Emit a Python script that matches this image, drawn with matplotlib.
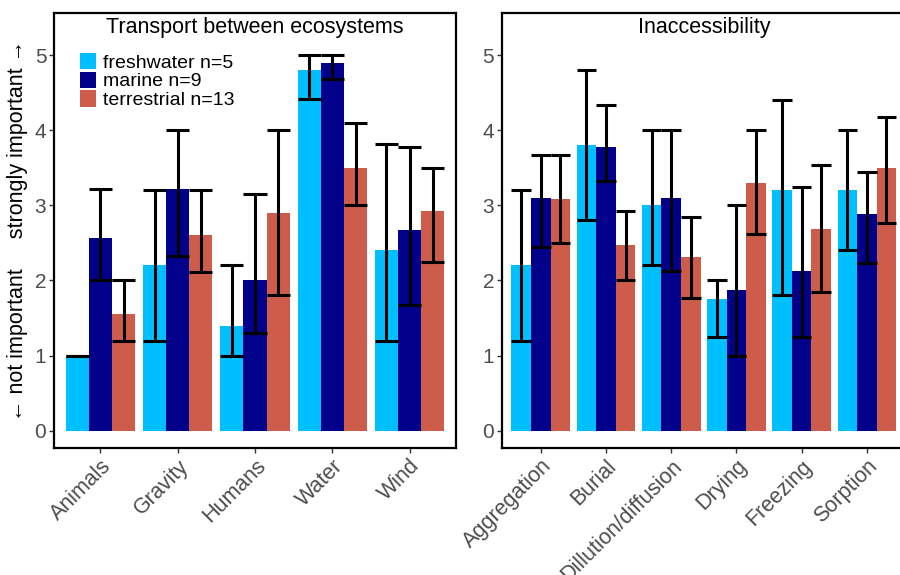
import matplotlib
matplotlib.use("Agg")
import matplotlib.pyplot as plt
from matplotlib.patches import Patch
import numpy as np

plt.rcParams['font.family'] = ['Liberation Sans', 'DejaVu Sans']

groups = ['freshwater n=5', 'marine n=9', 'terrestrial n=13']
colors = ['#00BFFF', '#00008B', '#CD5C4A']

transport_cats = ['Animals', 'Gravity', 'Humans', 'Water', 'Wind']
transport_mean = {
    'freshwater': [1.0, 2.2, 1.4, 4.8, 2.4],
    'marine': [2.56, 3.22, 2.0, 4.89, 2.67],
    'terrestrial': [1.55, 2.6, 2.9, 3.5, 2.92],
}
transport_lo = {
    'freshwater': [1.0, 1.2, 1.0, 4.41, 1.2],
    'marine': [2.0, 2.33, 1.3, 4.68, 1.67],
    'terrestrial': [1.19, 2.11, 1.8, 3.0, 2.25],
}
transport_hi = {
    'freshwater': [1.0, 3.2, 2.2, 5.0, 3.81],
    'marine': [3.22, 4.0, 3.15, 5.0, 3.78],
    'terrestrial': [2.0, 3.2, 4.0, 4.09, 3.5],
}

inacc_cats = ['Aggregation', 'Burial', 'Dillution/diffusion', 'Drying', 'Freezing', 'Sorption']
inacc_mean = {
    'freshwater': [2.2, 3.8, 3.0, 1.75, 3.2, 3.2],
    'marine': [3.1, 3.78, 3.1, 1.87, 2.12, 2.89],
    'terrestrial': [3.08, 2.47, 2.31, 3.3, 2.69, 3.5],
}
inacc_lo = {
    'freshwater': [1.2, 2.8, 2.2, 1.25, 1.8, 2.4],
    'marine': [2.45, 3.33, 2.12, 1.0, 1.25, 2.23],
    'terrestrial': [2.5, 2.0, 1.77, 2.62, 1.85, 2.76],
}
inacc_hi = {
    'freshwater': [3.2, 4.8, 4.0, 2.0, 4.4, 4.0],
    'marine': [3.67, 4.34, 4.0, 3.0, 3.25, 3.44],
    'terrestrial': [3.67, 2.93, 2.85, 4.0, 3.54, 4.17],
}

keys = ['freshwater', 'marine', 'terrestrial']
bw = 0.3


def draw_panel(ax, cats, mean, lo, hi, title):
    x = np.arange(1, len(cats) + 1)
    for i, k in enumerate(keys):
        xs = x + (i - 1) * bw
        ax.bar(xs, mean[k], width=bw, color=colors[i], linewidth=0, zorder=2)
    # error bars with caps as wide as the bars
    for i, k in enumerate(keys):
        xs = x + (i - 1) * bw
        ax.vlines(xs, lo[k], hi[k], color='black', lw=2.2, zorder=3)
        ax.hlines(lo[k], xs - bw / 2, xs + bw / 2, color='black', lw=2.2, zorder=3)
        ax.hlines(hi[k], xs - bw / 2, xs + bw / 2, color='black', lw=2.2, zorder=3)
    ax.set_xlim(0.4, len(cats) + 0.6)
    ax.set_ylim(-0.23, 5.56)
    ax.set_yticks(range(6))
    ax.set_xticks(x)
    ax.set_xticklabels(cats, rotation=45, ha='right', va='top', rotation_mode='anchor')
    ax.tick_params(axis='both', labelcolor='#4D4D4D', color='#333333',
                   length=3.5, width=1, pad=2)
    ax.tick_params(axis='x', labelsize=15.5)
    ax.tick_params(axis='y', labelsize=15)
    for s in ax.spines.values():
        s.set_linewidth(1.6)
        s.set_color('black')
    ax.text(0.5, 0.966, title, transform=ax.transAxes, ha='center', va='center',
            fontsize=15.5, color='black')


fig = plt.figure(figsize=(9, 5.75), dpi=100)
ax1 = fig.add_axes([0.06, 0.2209, 0.4467, 0.7565])
ax2 = fig.add_axes([0.5574, 0.2209, 0.4493, 0.7565])

draw_panel(ax1, transport_cats, transport_mean, transport_lo, transport_hi,
           'Transport between ecosystems')
draw_panel(ax2, inacc_cats, inacc_mean, inacc_lo, inacc_hi, 'Inaccessibility')

ax1.set_ylabel('\u2190 not important     strongly important \u2192', fontsize=15.5, labelpad=5)

handles = [Patch(facecolor=c, edgecolor='none') for c in colors]
ax1.legend(handles, groups, loc='upper left', bbox_to_anchor=(0.064, 0.909),
           frameon=False, fontsize=14, handlelength=0.82, handleheight=0.93,
           handletextpad=0.36, labelspacing=0.0, borderpad=0, borderaxespad=0)

fig.savefig('out.png', dpi=100)
